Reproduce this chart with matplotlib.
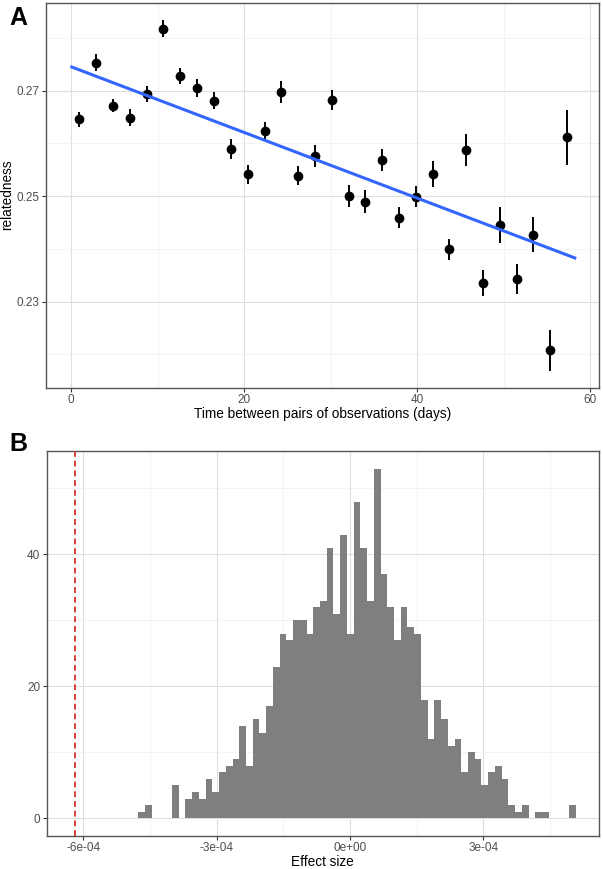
import numpy as np
import matplotlib
matplotlib.use("Agg")
import matplotlib.pyplot as plt
from matplotlib.ticker import FixedLocator

plt.rcParams['font.family'] = ['Liberation Sans', 'DejaVu Sans']

## panel A: binned relatedness vs time between observations
days = [0.96, 2.92, 4.88, 6.81, 8.74, 10.66, 12.62, 14.55, 16.51, 18.44,
        20.40, 22.37, 24.30, 26.26, 28.18, 30.10, 32.07, 33.99, 35.95, 37.88,
        39.84, 41.77, 43.69, 45.65, 47.58, 49.51, 51.47, 53.39, 55.35, 57.27]
relatedness = [0.2646, 0.2753, 0.2672, 0.2649, 0.2694, 0.2818, 0.2728, 0.2706, 0.2681, 0.2590,
               0.2542, 0.2624, 0.2698, 0.2539, 0.2576, 0.2682, 0.2501, 0.2490, 0.2569, 0.2459,
               0.2499, 0.2542, 0.2399, 0.2588, 0.2335, 0.2446, 0.2343, 0.2427, 0.2208, 0.2612]
rel_err = [0.0014, 0.0016, 0.0013, 0.0016, 0.0015, 0.0016, 0.0015, 0.0017, 0.0016, 0.0019,
           0.0018, 0.0017, 0.0021, 0.0018, 0.0021, 0.0019, 0.0021, 0.0022, 0.0021, 0.0020,
           0.0020, 0.0024, 0.0020, 0.0030, 0.0025, 0.0034, 0.0029, 0.0033, 0.0039, 0.0052]
fit_x = [0.08, 58.2]
fit_y = [0.2745, 0.2383]

## panel B: permutation effect sizes
hist_start = -4.763e-4
bin_width = 1.514e-5
counts = [1, 2, 0, 0, 0, 5, 0, 3, 4, 3, 6, 4, 7, 8, 9, 14, 8, 15, 13, 17,
          23, 28, 27, 30, 30, 28, 32, 33, 41, 31, 43, 28, 48, 41, 33, 53, 37, 32, 27, 32,
          29, 28, 18, 12, 18, 15, 11, 12, 7, 10, 9, 5, 7, 8, 6, 2, 1, 2, 0, 1,
          1, 0, 0, 0, 2]
observed = -6.195e-4

grid_major = '#DEDEDE'
grid_minor = '#F1F1F1'
tick_col = '#4D4D4D'

fig = plt.figure(figsize=(6.03, 8.69), dpi=100)
axA = fig.add_axes([0.0763, 0.5539, 0.9171, 0.4430])
axB = fig.add_axes([0.0774, 0.0380, 0.9160, 0.4430])

def style(ax):
    ax.set_axisbelow(True)
    ax.grid(True, which='major', color=grid_major, lw=0.8)
    ax.grid(True, which='minor', color=grid_minor, lw=0.6)
    for s in ax.spines.values():
        s.set_color('#555555')
        s.set_linewidth(1.0)
    ax.tick_params(which='major', length=3, width=0.8, color='#333333',
                   labelsize=8.5, labelcolor=tick_col, pad=1.5)
    ax.tick_params(which='minor', length=0)

# A
axA.errorbar(days, relatedness, yerr=rel_err, fmt='o', color='black', ms=6,
             elinewidth=1.4, capsize=0, zorder=3)
axA.plot(fit_x, fit_y, color='#3366FF', lw=2.2, zorder=4)
axA.set_xlim(-2.9, 61.0)
axA.set_ylim(0.2137, 0.2867)
axA.xaxis.set_major_locator(FixedLocator([0, 20, 40, 60]))
axA.xaxis.set_minor_locator(FixedLocator([10, 30, 50]))
axA.yaxis.set_major_locator(FixedLocator([0.23, 0.25, 0.27]))
axA.yaxis.set_minor_locator(FixedLocator([0.22, 0.24, 0.26, 0.28]))
axA.set_xticklabels(['0', '20', '40', '60'])
axA.set_yticklabels(['0.23', '0.25', '0.27'])
style(axA)
axA.set_xlabel("Time between pairs of observations (days)", fontsize=9.8, labelpad=0.5)
axA.set_ylabel("relatedness", fontsize=9.8, labelpad=2)

# B
edges = hist_start + bin_width * np.arange(len(counts) + 1)
axB.stairs(counts, edges, fill=True, color='#7F7F7F', zorder=2)
axB.axvline(observed, color='#D43F3A', lw=1.4, ls=(0, (3, 2)), zorder=3)
axB.set_xlim(-6.825e-4, 5.603e-4)
axB.set_ylim(-2.65, 55.65)
axB.xaxis.set_major_locator(FixedLocator([-6e-4, -3e-4, 0, 3e-4]))
axB.xaxis.set_minor_locator(FixedLocator([-4.5e-4, -1.5e-4, 1.5e-4, 4.5e-4]))
axB.yaxis.set_major_locator(FixedLocator([0, 20, 40]))
axB.yaxis.set_minor_locator(FixedLocator([10, 30, 50]))
axB.set_xticklabels(['-6e-04', '-3e-04', '0e+00', '3e-04'])
axB.set_yticklabels(['0', '20', '40'])
style(axB)
axB.set_xlabel("Effect size", fontsize=9.8, labelpad=0.5)

fig.text(0.016, 0.993, "A", fontsize=18, fontweight='bold', va='top', ha='left')
fig.text(0.016, 0.503, "B", fontsize=18, fontweight='bold', va='top', ha='left')

fig.savefig("out.png", dpi=100)
